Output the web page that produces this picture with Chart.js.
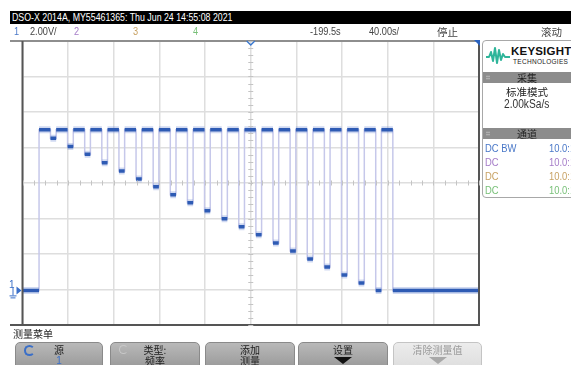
<!DOCTYPE html>
<html>
<head>
<meta charset="utf-8">
<script src="https://cdn.jsdelivr.net/npm/chart.js@4/dist/chart.umd.min.js"></script>
<style>
  html, body { margin:0; padding:0; background:#fff; }
  body { width:571px; height:365px; overflow:hidden; position:relative;
         font-family:"Liberation Sans","Noto Sans CJK SC",sans-serif; }
  .abs { position:absolute; white-space:nowrap; }
  .nar { display:inline-block; transform:scaleX(0.8); transform-origin:0 0; }
  #wrap { position:absolute; left:0; top:0; width:571px; height:365px; }
  .cjk { font-family:"Noto Sans CJK SC",sans-serif; }
  #titlebar { left:10px; top:11px; width:561px; height:13px; background:#000; color:#fff;
              font-size:11px; line-height:13px; padding-left:2px; box-sizing:border-box; }
  .status { top:25px; font-size:11.5px; line-height:13px; color:#444; }
  #panel { left:482px; top:40px; width:100px; height:158px; border:1px solid #a8a8a8;
           border-radius:4px; background:#fff; overflow:hidden; box-sizing:border-box; }
  .phead { position:absolute; left:0; width:100%; height:11px; background:#8c8c8c; }
  .phead span { position:absolute; left:0; width:88px; text-align:center; font-size:10px; line-height:11px; color:#222; }
  .grip { position:absolute; left:3px; top:3px; width:4px; height:5px;
          background:radial-gradient(circle,#b8b8b8 0.8px,transparent 1px) 0 0/2px 2.5px; }
  .prow { position:absolute; left:2px; font-size:11.5px; line-height:13px; }
  .pval { position:absolute; left:66px; font-size:11.5px; line-height:13px; }
  .prow span, .pval span { display:inline-block; transform:scaleX(0.82); transform-origin:0 0; }
  .btn { top:342px; height:30px; border-radius:5px 5px 0 0; box-sizing:border-box;
         background:linear-gradient(#b9b9b9,#959595); border:1px solid #8a8a8a; }
  .btn .t1 { position:absolute; left:0; right:0; top:1px; text-align:center; font-size:10px; line-height:12px; color:#222; }
  .btn .t2 { position:absolute; left:0; right:0; top:12px; text-align:center; font-size:10px; line-height:12px; color:#222; }
  .arrow { position:absolute; left:50%; margin-left:-9px; top:14px; width:0; height:0;
           border-left:9px solid transparent; border-right:9px solid transparent; border-top:7px solid #111; }
  .ring { position:absolute; left:8px; top:2px; width:7px; height:7px; border-radius:50%;
          border:2px solid #3a6fc8; border-right-color:transparent; }
</style>
</head>
<body>
<div id="wrap"><canvas id="scope"></canvas></div>

<div id="titlebar" class="abs"><span class="nar">DSO-X 2014A, MY55461365: Thu Jun 24 14:55:08 2021</span></div>
<div class="abs status" style="left:14px;color:#4a78c8"><span class="nar">1</span></div>
<div class="abs status" style="left:30px"><span class="nar" id="vdiv"></span></div>
<div class="abs status" style="left:74px;color:#a57cc8"><span class="nar">2</span></div>
<div class="abs status" style="left:133px;color:#c8a264"><span class="nar">3</span></div>
<div class="abs status" style="left:193px;color:#78c078"><span class="nar">4</span></div>
<div class="abs status" style="left:310px"><span class="nar" id="tref"></span></div>
<div class="abs status" style="left:369px"><span class="nar" id="tdiv"></span></div>
<div class="abs status cjk" style="left:437px;font-size:10.5px">停止</div>
<div class="abs status cjk" style="left:541px;font-size:10.5px">滚动</div>

<div id="panel" class="abs">
  <svg style="position:absolute;left:3px;top:5px" width="24" height="18" viewBox="0 0 24 18">
    <polyline points="0,11 3,11 5,6 7,15 9,2 11,17 13,4 15,14 17,8 19,11 24,11"
      fill="none" stroke="#2fb59a" stroke-width="2" stroke-linejoin="round"/>
  </svg>
  <div class="abs" style="left:28px;top:4px;font-weight:bold;font-size:11.5px;letter-spacing:0.2px;color:#111">KEYSIGHT</div>
  <div class="abs" style="left:30px;top:17px;font-size:6.5px;letter-spacing:0.3px;color:#222">TECHNOLOGIES</div>
  <div class="phead" style="top:31px"><div class="grip"></div><span class="cjk">采集</span></div>
  <div class="abs cjk" style="left:0;width:88px;text-align:center;top:43px;font-size:10.5px;color:#222">标准模式</div>
  <div class="abs" style="left:0;width:88px;text-align:center;top:56px;font-size:12px;color:#333"><span id="srate" style="display:inline-block;transform:scaleX(0.85)"></span></div>
  <div class="phead" style="top:87px"><div class="grip"></div><span class="cjk">通道</span></div>
  <div class="prow" style="top:101px;color:#4a78c8"><span>DC BW</span></div><div class="pval" style="top:101px;color:#4a78c8"><span>10.0:1</span></div>
  <div class="prow" style="top:115px;color:#a57cc8"><span>DC</span></div><div class="pval" style="top:115px;color:#a57cc8"><span>10.0:1</span></div>
  <div class="prow" style="top:129px;color:#c8a264"><span>DC</span></div><div class="pval" style="top:129px;color:#c8a264"><span>10.0:1</span></div>
  <div class="prow" style="top:143px;color:#78c078"><span>DC</span></div><div class="pval" style="top:143px;color:#78c078"><span>10.0:1</span></div>
</div>

<div class="abs cjk" style="left:13px;top:327px;font-size:10px;line-height:13px;color:#222">测量菜单</div>
<div class="abs btn" style="left:15px;width:88px"><div class="ring"></div><div class="t1 cjk">源</div><div class="t2" style="color:#3a6fc8">1</div></div>
<div class="abs btn" style="left:110px;width:90px"><div class="ring" style="border-color:#c8c8c8;border-right-color:transparent;border-width:1px"></div><div class="t1 cjk">类型:</div><div class="t2 cjk">频率</div></div>
<div class="abs btn" style="left:205px;width:90px"><div class="t1 cjk">添加</div><div class="t2 cjk">测量</div></div>
<div class="abs btn" style="left:298px;width:90px"><div class="t1 cjk">设置</div><div class="arrow"></div></div>
<div class="abs btn" style="left:393px;width:89px;background:linear-gradient(#ececec,#dcdcdc);border-color:#c4c4c4"><div class="t1 cjk" style="color:#9a9a9a">清除测量值</div><div class="arrow" style="border-top-color:#a8a8a8"></div></div>

<div class="abs" id="gnd" style="left:9px;font-size:10px;line-height:10px;color:#3a6fc8">1</div>

<script>
// Channel 1 capture: staircase of pulses, volts vs. seconds
const timeRef = -199.5;      // s at screen centre
const secPerDiv = 40;        // s/div
const voltsPerDiv = 2.0;     // V/div
const voltOffset = 6.0;      // V at screen centre
const sampleRate = "2.00kSa/s";

const restLevel = -0.05;
const highLevel = 9.0;
const riseTimes = [-385, -370, -355, -340, -325, -310, -295, -280, -265, -250, -235,
                   -220, -205, -190, -175, -160, -145, -130, -115, -100, -85];
const fallTimes = [-375, -360, -345, -330, -315, -300, -285, -270, -255, -240, -225,
                   -210, -195, -180, -165, -150, -135, -120, -105, -90, -75];
const lowLevels = [8.52, 8.05, 7.62, 7.14, 6.68, 6.23, 5.79, 5.34, 4.89, 4.44,
                   3.99, 3.54, 3.09, 2.62, 2.17, 1.72, 1.27, 0.82, 0.37, -0.05];

const xMin = timeRef - 5 * secPerDiv;
const xMax = timeRef + 5 * secPerDiv;
const yMin = voltOffset - 4 * voltsPerDiv;
const yMax = voltOffset + 4 * voltsPerDiv;

document.getElementById('vdiv').textContent = voltsPerDiv.toFixed(2) + 'V/';
document.getElementById('tref').textContent = timeRef.toFixed(1) + 's';
document.getElementById('tdiv').textContent = secPerDiv.toFixed(2) + 's/';
document.getElementById('srate').textContent = sampleRate;

// assemble the trace as a list of vertices
const trace = [{x: xMin, y: restLevel}];
riseTimes.forEach((t, i) => {
  const before = i === 0 ? restLevel : lowLevels[i - 1];
  const after = i < lowLevels.length ? lowLevels[i] : restLevel;
  trace.push({x: t, y: before}, {x: t, y: highLevel},
             {x: fallTimes[i], y: highLevel}, {x: fallTimes[i], y: after});
});
trace.push({x: xMax, y: restLevel});

const flatOnly = color => ({
  borderColor: ctx => ctx.p0.parsed.y === ctx.p1.parsed.y ? color : 'rgba(0,0,0,0)'
});

// graticule frame, centre-axis minor ticks and reference markers
const scopeDecor = {
  id: 'scopeDecor',
  afterDraw(chart) {
    const {ctx, scales: {x, y}} = chart;
    ctx.save();
    ctx.strokeStyle = '#c4c4c4';
    ctx.lineWidth = 1;
    const cx = x.getPixelForValue(timeRef), cy = y.getPixelForValue(voltOffset);
    for (let t = xMin; t <= xMax + 1e-6; t += secPerDiv / 4) {
      const px = Math.round(x.getPixelForValue(t)) + 0.5;
      ctx.beginPath(); ctx.moveTo(px, cy - 2.5); ctx.lineTo(px, cy + 2.5); ctx.stroke();
    }
    for (let v = yMin; v <= yMax + 1e-6; v += voltsPerDiv / 5) {
      const py = Math.round(y.getPixelForValue(v)) + 0.5;
      ctx.beginPath(); ctx.moveTo(cx - 2.5, py); ctx.lineTo(cx + 2.5, py); ctx.stroke();
    }
    ctx.restore();
  },
  afterDatasetsDraw(chart) {
    const {ctx, chartArea: a, scales: {x}} = chart;
    ctx.save();
    ctx.lineWidth = 2;
    ctx.strokeStyle = '#8e8e8e';
    ctx.beginPath(); ctx.moveTo(10, a.top); ctx.lineTo(a.right, a.top); ctx.stroke();
    ctx.strokeStyle = '#555';
    ctx.beginPath(); ctx.moveTo(10, a.bottom); ctx.lineTo(a.right + 1, a.bottom); ctx.stroke();
    ctx.beginPath(); ctx.moveTo(a.left, a.top); ctx.lineTo(a.left, a.bottom); ctx.stroke();
    ctx.beginPath(); ctx.moveTo(a.right, a.top); ctx.lineTo(a.right, a.bottom); ctx.stroke();
    // trigger position marker
    const tx = x.getPixelForValue(timeRef);
    ctx.strokeStyle = '#3a78d0'; ctx.lineWidth = 1.5;
    ctx.beginPath(); ctx.moveTo(tx - 4, a.top); ctx.lineTo(tx, a.top + 4); ctx.lineTo(tx + 4, a.top); ctx.stroke();
    // corner marker
    ctx.fillStyle = '#2a62c0';
    ctx.beginPath(); ctx.moveTo(a.right - 5, a.top - 1); ctx.lineTo(a.right + 1, a.top - 1); ctx.lineTo(a.right + 1, a.top + 5); ctx.closePath(); ctx.fill();
    // channel 1 ground reference arrow
    const gy = chart.scales.y.getPixelForValue(restLevel);
    ctx.fillStyle = '#3a6fc8';
    ctx.beginPath(); ctx.moveTo(a.left - 1, gy); ctx.lineTo(a.left - 6, gy - 4); ctx.lineTo(a.left - 6, gy + 4); ctx.closePath(); ctx.fill();
    ctx.strokeStyle = '#3a6fc8'; ctx.lineWidth = 1;
    ctx.beginPath(); ctx.moveTo(a.left - 9.5, gy - 3); ctx.lineTo(a.left - 9.5, gy + 5);
    ctx.moveTo(a.left - 13, gy + 5.5); ctx.lineTo(a.left - 6, gy + 5.5);
    ctx.moveTo(a.left - 12, gy + 7.5); ctx.lineTo(a.left - 7, gy + 7.5); ctx.stroke();
    ctx.restore();
  }
};

const chart = new Chart(document.getElementById('scope'), {
  type: 'line',
  data: {
    datasets: [
      { data: trace, borderColor: '#c6c8ea', borderWidth: 1.5, pointRadius: 0, order: 3 },
      { data: trace, borderWidth: 7, pointRadius: 0, segment: flatOnly('rgba(120,145,215,0.35)'), order: 2 },
      { data: trace, borderWidth: 3.5, pointRadius: 0, segment: flatOnly('#2e5bb4'), order: 1 }
    ]
  },
  options: {
    responsive: true,
    maintainAspectRatio: false,
    animation: false,
    events: [],
    layout: { padding: { left: 22.5, top: 41, right: 92, bottom: 40 } },
    plugins: { legend: { display: false }, tooltip: { enabled: false } },
    scales: {
      x: {
        type: 'linear', min: xMin, max: xMax,
        afterBuildTicks: s => { s.ticks = Array.from({length: 11}, (_, k) => ({value: xMin + k * secPerDiv})); },
        ticks: { display: false },
        grid: { color: '#dedede', lineWidth: 1.5, drawTicks: false },
        border: { display: false }
      },
      y: {
        type: 'linear', min: yMin, max: yMax,
        ticks: { display: false, stepSize: voltsPerDiv },
        grid: { color: '#dedede', lineWidth: 1.5, drawTicks: false },
        border: { display: false }
      }
    }
  },
  plugins: [scopeDecor]
});

const gy = chart.scales.y.getPixelForValue(restLevel);
document.getElementById('gnd').style.top = (gy - 10) + 'px';
</script>
</body>
</html>
